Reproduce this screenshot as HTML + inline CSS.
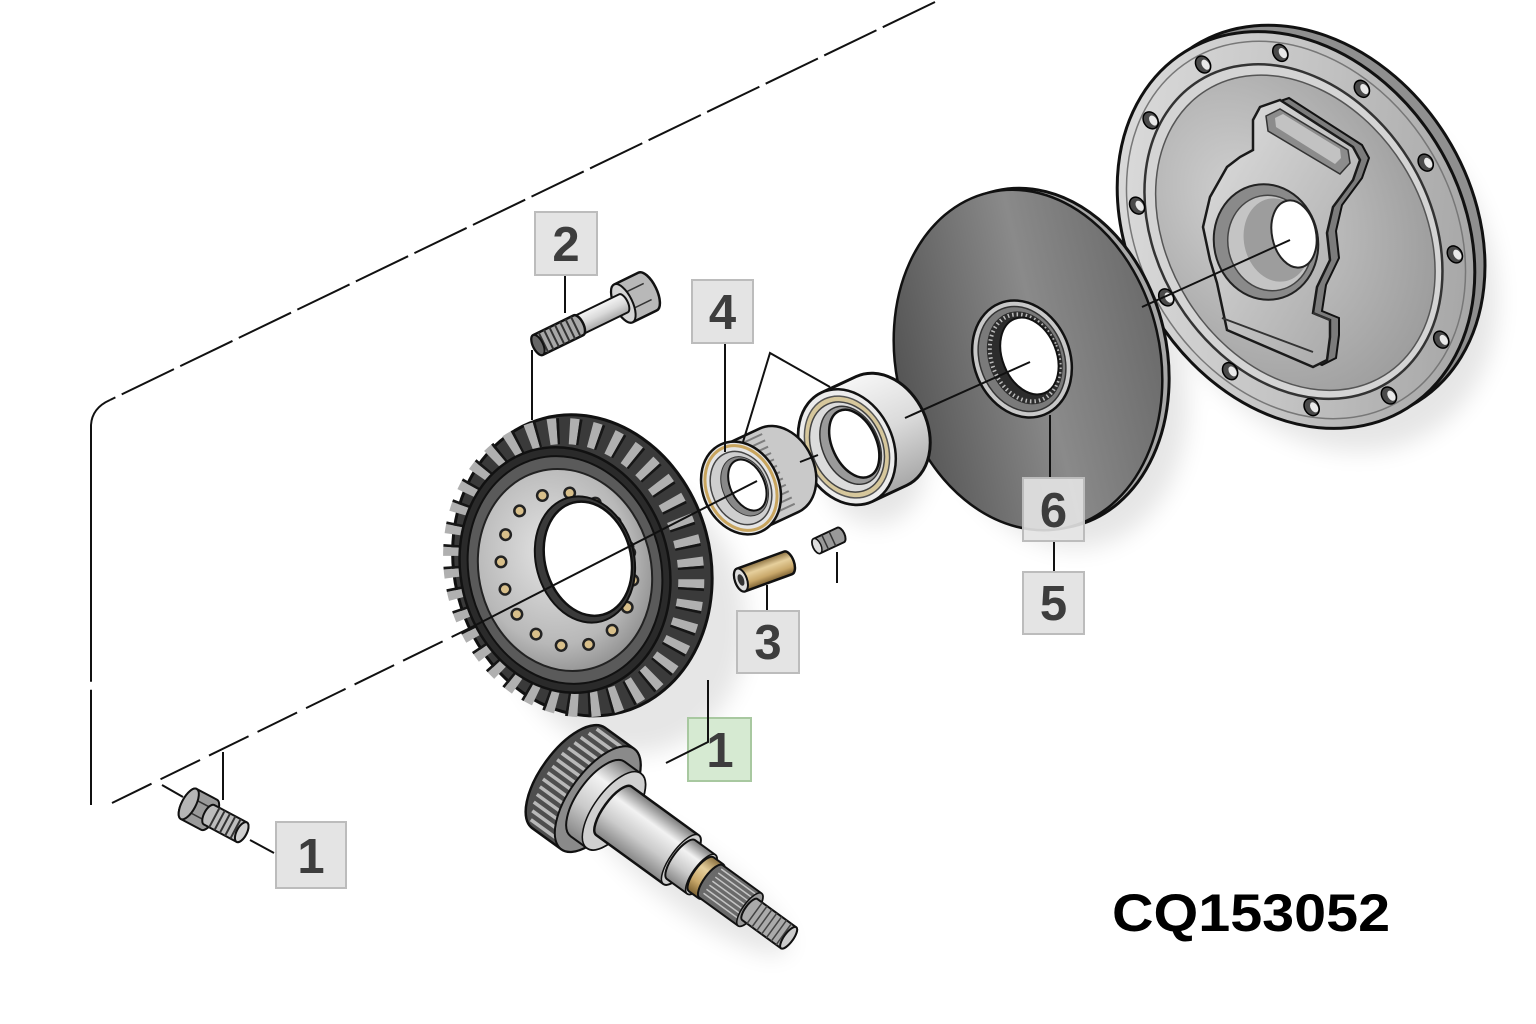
<!DOCTYPE html>
<html><head><meta charset="utf-8"><title>CQ153052</title>
<style>html,body{margin:0;padding:0;background:#fff}svg{display:block}</style></head>
<body>
<svg width="1536" height="1024" viewBox="0 0 1536 1024" xmlns="http://www.w3.org/2000/svg">
<defs>
<linearGradient id="gA" x1="0" y1="0" x2="0" y2="1"><stop offset="0" stop-color="#f6f6f6"/><stop offset="0.5" stop-color="#dadada"/><stop offset="1" stop-color="#a8a8a8"/></linearGradient>
<linearGradient id="gB" x1="0" y1="0" x2="0" y2="1"><stop offset="0" stop-color="#7a7a7a"/><stop offset="0.3" stop-color="#f2f2f2"/><stop offset="0.65" stop-color="#cbcbcb"/><stop offset="1" stop-color="#858585"/></linearGradient>
<linearGradient id="gTan" x1="0" y1="0" x2="0" y2="1"><stop offset="0" stop-color="#8a6f3e"/><stop offset="0.35" stop-color="#e6cf9c"/><stop offset="0.7" stop-color="#c9a86a"/><stop offset="1" stop-color="#7a5f30"/></linearGradient>
<linearGradient id="gDisc" x1="0" y1="0" x2="1" y2="0"><stop offset="0" stop-color="#555"/><stop offset="0.55" stop-color="#8a8a8a"/><stop offset="1" stop-color="#6c6c6c"/></linearGradient>
<linearGradient id="gHous" x1="0" y1="0" x2="1" y2="1"><stop offset="0" stop-color="#e2e2e2"/><stop offset="0.5" stop-color="#c4c4c4"/><stop offset="1" stop-color="#9a9a9a"/></linearGradient>
<radialGradient id="gFace" cx="0.4" cy="0.35" r="0.7"><stop offset="0" stop-color="#d2d2d2"/><stop offset="1" stop-color="#9c9c9c"/></radialGradient>
<radialGradient id="gHub" cx="0.45" cy="0.4" r="0.65"><stop offset="0" stop-color="#e4e4e4"/><stop offset="0.7" stop-color="#b8b8b8"/><stop offset="1" stop-color="#8a8a8a"/></radialGradient>
<linearGradient id="gBoss" x1="0" y1="0" x2="1" y2="1"><stop offset="0" stop-color="#e0e0e0"/><stop offset="1" stop-color="#a5a5a5"/></linearGradient>
<filter id="blur" x="-50%" y="-50%" width="200%" height="200%"><feGaussianBlur stdDeviation="12"/></filter>
</defs>

<!-- shadows -->
<g filter="url(#blur)" fill="#000" opacity="0.10">
<ellipse cx="625" cy="615" rx="120" ry="140" transform="rotate(-15 625 615)"/>
<ellipse cx="1325" cy="262" rx="160" ry="200" transform="rotate(-32 1325 262)"/>
<ellipse cx="875" cy="470" rx="50" ry="55"/>
<ellipse cx="1060" cy="385" rx="125" ry="165" transform="rotate(-13 1060 385)"/>
<ellipse cx="690" cy="880" rx="120" ry="30" transform="rotate(36 690 880)"/>
</g>

<!-- dashed frame lines -->
<g fill="none" stroke="#111" stroke-width="2">
<path d="M935,2 L110,400" stroke-dasharray="58 7"/>
<path d="M110,400 Q92,408 91,425 L91,805" stroke-dasharray="290 8"/>
<path d="M112,803 L470,628" stroke-dasharray="44 10"/>
<path d="M162,785 L183,797"/>
<path d="M223,752 L223,800"/>
<path d="M250,840 L274,853"/>
</g>

<!-- HOUSING -->
<g transform="translate(1296,230) rotate(-32)">
<ellipse cx="12" cy="0" rx="165" ry="210" fill="#8f8f8f" stroke="#111" stroke-width="3"/>
<ellipse cx="0" cy="0" rx="165" ry="210" fill="url(#gHous)" stroke="#111" stroke-width="3"/>
<ellipse cx="0" cy="0" rx="156" ry="200" fill="none" stroke="#777" stroke-width="1.5"/>
<ellipse cx="-3" cy="0" rx="136" ry="178" fill="#d4d4d4" stroke="#333" stroke-width="2.5"/>
<ellipse cx="-2" cy="2" rx="127" ry="168" fill="url(#gFace)" stroke="#555" stroke-width="1.5"/>
<g fill="#4a4a4a" stroke="#000" stroke-width="1.5">
<ellipse cx="80.6" cy="-158.5" rx="7" ry="9"/><ellipse cx="130.7" cy="-84.8" rx="7" ry="9"/><ellipse cx="145.7" cy="11.6" rx="7" ry="9"/>
<ellipse cx="121.8" cy="104.9" rx="7" ry="9"/><ellipse cx="65.1" cy="170" rx="7" ry="9"/><ellipse cx="-8.9" cy="189.6" rx="7" ry="9"/>
<ellipse cx="-80.6" cy="158.5" rx="7" ry="9"/><ellipse cx="-130.7" cy="84.8" rx="7" ry="9"/><ellipse cx="-145.7" cy="-11.6" rx="7" ry="9"/>
<ellipse cx="-121.8" cy="-104.9" rx="7" ry="9"/><ellipse cx="-65.1" cy="-170" rx="7" ry="9"/><ellipse cx="8.9" cy="-189.6" rx="7" ry="9"/>
</g>
<g fill="#e8e8e8">
<ellipse cx="82.6" cy="-157" rx="3.5" ry="5.5"/><ellipse cx="132.7" cy="-83.3" rx="3.5" ry="5.5"/><ellipse cx="147.7" cy="13.1" rx="3.5" ry="5.5"/>
<ellipse cx="123.8" cy="106.4" rx="3.5" ry="5.5"/><ellipse cx="67.1" cy="171.5" rx="3.5" ry="5.5"/><ellipse cx="-6.9" cy="191.1" rx="3.5" ry="5.5"/>
<ellipse cx="-78.6" cy="160" rx="3.5" ry="5.5"/><ellipse cx="-128.7" cy="86.3" rx="3.5" ry="5.5"/><ellipse cx="-143.7" cy="-10.1" rx="3.5" ry="5.5"/>
<ellipse cx="-119.8" cy="-103.4" rx="3.5" ry="5.5"/><ellipse cx="-63.1" cy="-168.5" rx="3.5" ry="5.5"/><ellipse cx="10.9" cy="-188.1" rx="3.5" ry="5.5"/>
</g>
</g>
<!-- boss -->
<polygon transform="translate(9,-2)" points="1253,120 1260,107 1280,100 1353,147 1360,160 1353,180 1333,207 1327,233 1330,260 1317,287 1313,313 1330,320 1330,337 1327,360 1313,367 1227,330 1220,297 1217,283 1210,260 1203,227 1210,197 1227,167 1240,157 1253,150" fill="#7c7c7c" stroke="#111" stroke-width="2"/>
<polygon points="1253,120 1260,107 1280,100 1353,147 1360,160 1353,180 1333,207 1327,233 1330,260 1317,287 1313,313 1330,320 1330,337 1327,360 1313,367 1227,330 1220,297 1217,283 1210,260 1203,227 1210,197 1227,167 1240,157 1253,150" fill="url(#gBoss)" stroke="#1a1a1a" stroke-width="2.5"/>
<polygon points="1266,116 1280,109 1348,150 1350,163 1340,174 1268,131" fill="#8c8c8c" stroke="#333" stroke-width="1.5"/>
<polygon points="1275,118 1283,114 1340,149 1341,158 1335,164 1276,127" fill="#c2c2c2"/>
<path d="M1222,318 L1313,352 M1313,313 L1330,320" stroke="#333" stroke-width="2" fill="none"/>
<ellipse cx="1266" cy="242" rx="52" ry="58" transform="rotate(-12 1266 242)" fill="#8a8a8a" stroke="#222" stroke-width="2"/>
<ellipse cx="1270" cy="243" rx="42" ry="48" transform="rotate(-12 1270 243)" fill="#c4c4c4" stroke="#444" stroke-width="1.5"/>
<ellipse cx="1277" cy="240" rx="33" ry="42" transform="rotate(-12 1277 240)" fill="#9d9d9d"/>
<ellipse cx="1294" cy="234" rx="22" ry="34" transform="rotate(-12 1294 234)" fill="#fff" stroke="#222" stroke-width="2"/>

<!-- DISC -->
<g transform="translate(1028,360) rotate(-13)">
<ellipse cx="7" cy="0" rx="132" ry="172" fill="#a8a8a8" stroke="#111" stroke-width="3"/>
<ellipse cx="0" cy="0" rx="132" ry="172" fill="url(#gDisc)" stroke="#111" stroke-width="2.5"/>
</g>
<g transform="translate(1022,359) rotate(-22)">
<ellipse cx="0" cy="0" rx="48" ry="60" fill="#c8c8c8" stroke="#111" stroke-width="2.5"/>
<ellipse cx="0" cy="0" rx="42" ry="54" fill="#7a7a7a" stroke="#333" stroke-width="1.5"/>
<ellipse cx="3" cy="0" rx="36" ry="48" fill="#2c2c2c"/>
<ellipse cx="3" cy="0" rx="33" ry="45" fill="none" stroke="#bbb" stroke-width="4" stroke-dasharray="1.5 3"/>
<ellipse cx="8" cy="0" rx="27" ry="40" fill="#fff" stroke="#111" stroke-width="2"/>
</g>

<!-- BIG BEARING -->
<g transform="translate(847,447) rotate(-25)">
<path d="M0,-60 L38,-60 A46,60 0 0 1 38,60 L0,60 A46,60 0 0 1 0,-60 Z" fill="url(#gA)" stroke="#111" stroke-width="3"/>
<ellipse cx="0" cy="0" rx="46" ry="60" fill="#ececec" stroke="#111" stroke-width="2.5"/>
<ellipse cx="0" cy="0" rx="40" ry="53" fill="#d6c79c" stroke="#555" stroke-width="1.5"/>
<ellipse cx="0" cy="0" rx="35" ry="47" fill="#dcdcdc" stroke="#444" stroke-width="1.5"/>
<ellipse cx="4" cy="0" rx="28" ry="41" fill="#9a9a9a" stroke="#333" stroke-width="1.5"/>
<ellipse cx="8" cy="0" rx="22" ry="36" fill="#fff" stroke="#111" stroke-width="2.5"/>
</g>

<!-- BEARING 4 -->
<g transform="translate(741,488) rotate(-25)">
<path d="M0,-46 L42,-46 A35,46 0 0 1 42,46 L0,46 A35,46 0 0 1 0,-46 Z" fill="#c9c9c9" stroke="#111" stroke-width="2.5"/>
<g stroke="#7e7e7e" stroke-width="2">
<line x1="12" y1="-40" x2="42" y2="-40"/><line x1="12" y1="-33" x2="42" y2="-33"/><line x1="12" y1="-26" x2="42" y2="-26"/><line x1="12" y1="-19" x2="42" y2="-19"/><line x1="12" y1="-12" x2="42" y2="-12"/><line x1="12" y1="-5" x2="42" y2="-5"/><line x1="12" y1="2" x2="42" y2="2"/><line x1="12" y1="9" x2="42" y2="9"/><line x1="12" y1="16" x2="42" y2="16"/><line x1="12" y1="23" x2="42" y2="23"/><line x1="12" y1="30" x2="42" y2="30"/><line x1="12" y1="37" x2="42" y2="37"/>
</g>
<ellipse cx="0" cy="0" rx="38" ry="48" fill="#e5e5e5" stroke="#111" stroke-width="2.5"/>
<ellipse cx="0" cy="0" rx="34" ry="44" fill="none" stroke="#c9a55e" stroke-width="3"/>
<ellipse cx="0" cy="0" rx="29" ry="38" fill="#cfcfcf" stroke="#444" stroke-width="1.5"/>
<ellipse cx="4" cy="0" rx="22" ry="31" fill="#888" stroke="#333" stroke-width="1"/>
<ellipse cx="7" cy="0" rx="17" ry="27" fill="#fff" stroke="#111" stroke-width="2"/>
</g>

<!-- RING GEAR -->
<g transform="translate(565,570) rotate(-15)">
<ellipse cx="18" cy="0" rx="128" ry="152" fill="#3a3a3a" stroke="#111" stroke-width="3"/>
<ellipse cx="9" cy="0" rx="116" ry="138" fill="none" stroke="#b0b0b0" stroke-width="26" stroke-dasharray="8.5 12.54"/>
<ellipse cx="9" cy="0" rx="116" ry="138" fill="none" stroke="#161616" stroke-width="26" stroke-dasharray="2.5 18.54" stroke-dashoffset="-8.5"/>
<ellipse cx="0" cy="0" rx="104" ry="124" fill="#2a2a2a" stroke="#111" stroke-width="2.5"/>
<ellipse cx="0" cy="0" rx="96" ry="115" fill="#5a5a5a" stroke="#111" stroke-width="2"/>
<ellipse cx="0" cy="0" rx="86" ry="102" fill="url(#gHub)" stroke="#222" stroke-width="2"/>
<ellipse cx="2" cy="0" rx="65" ry="78" fill="none" stroke="#222" stroke-width="13" stroke-linecap="round" stroke-dasharray="0.01 27.73"/>
<ellipse cx="2" cy="0" rx="65" ry="78" fill="none" stroke="#d8bf8a" stroke-width="8" stroke-linecap="round" stroke-dasharray="0.01 27.73"/>
<ellipse cx="22" cy="-5" rx="49" ry="64" fill="#3a3a3a" stroke="#111" stroke-width="2"/>
<ellipse cx="25" cy="-5" rx="43" ry="58" fill="#fff" stroke="#111" stroke-width="2.5"/>
</g>

<!-- BOLT 2 -->
<g transform="translate(538,345) rotate(-26)">
<path d="M95,-21 L122,-21 A9,21 0 0 1 122,21 L95,21 A9,21 0 0 1 95,-21 Z" fill="#b8b8b8" stroke="#111" stroke-width="2.5"/>
<line x1="96" y1="-9" x2="122" y2="-9" stroke="#333" stroke-width="1.5"/><line x1="96" y1="9" x2="122" y2="9" stroke="#333" stroke-width="1.5"/>
<ellipse cx="95" cy="0" rx="9" ry="21" fill="#d4d4d4" stroke="#111" stroke-width="2"/>
<path d="M45,-10 L95,-10 A4.5,10 0 0 1 95,10 L45,10 A4.5,10 0 0 1 45,-10 Z" fill="url(#gA)" stroke="#111" stroke-width="2"/>
<path d="M0,-11 L45,-11 A5,11 0 0 1 45,11 L0,11 A5,11 0 0 1 0,-11 Z" fill="#a8a8a8" stroke="#111" stroke-width="2.5"/>
<g stroke="#333" stroke-width="2"><line x1="6" y1="-11" x2="6" y2="11"/><line x1="12" y1="-11" x2="12" y2="11"/><line x1="18" y1="-11" x2="18" y2="11"/><line x1="24" y1="-11" x2="24" y2="11"/><line x1="30" y1="-11" x2="30" y2="11"/><line x1="36" y1="-11" x2="36" y2="11"/><line x1="42" y1="-11" x2="42" y2="11"/></g>
<ellipse cx="0" cy="0" rx="5" ry="11" fill="#666" stroke="#111" stroke-width="2"/>
</g>

<!-- SMALL BOLT 1 -->
<g transform="translate(202,811) rotate(28)">
<path d="M-15,-17 L8,-17 A7,17 0 0 1 8,17 L-15,17 A7,17 0 0 1 -15,-17 Z" fill="#9a9a9a" stroke="#111" stroke-width="2"/>
<line x1="-15" y1="-7" x2="8" y2="-7" stroke="#333" stroke-width="1.5"/><line x1="-15" y1="7" x2="8" y2="7" stroke="#333" stroke-width="1.5"/>
<ellipse cx="-15" cy="0" rx="7" ry="17" fill="#b5b5b5" stroke="#111" stroke-width="2"/>
<path d="M8,-11 L45,-11 A5,11 0 0 1 45,11 L8,11 A5,11 0 0 1 8,-11 Z" fill="#bdbdbd" stroke="#111" stroke-width="2"/>
<g stroke="#333" stroke-width="2"><line x1="14" y1="-11" x2="14" y2="11"/><line x1="20" y1="-11" x2="20" y2="11"/><line x1="26" y1="-11" x2="26" y2="11"/><line x1="32" y1="-11" x2="32" y2="11"/><line x1="38" y1="-11" x2="38" y2="11"/></g>
<ellipse cx="45" cy="0" rx="5" ry="11" fill="#d0d0d0" stroke="#111" stroke-width="2"/>
</g>

<!-- PIN 3 -->
<g transform="translate(741,580) rotate(-20)">
<path d="M0,-12 L50,-12 A6,12 0 0 1 50,12 L0,12 A6,12 0 0 1 0,-12 Z" fill="url(#gTan)" stroke="#111" stroke-width="2.5"/>
<ellipse cx="0" cy="0" rx="6" ry="12" fill="#ddd" stroke="#111" stroke-width="2"/>
<ellipse cx="0" cy="0" rx="3" ry="6" fill="#333"/>
</g>
<!-- SMALL PIN -->
<g transform="translate(817,546) rotate(-25)">
<path d="M0,-8 L26,-8 A4,8 0 0 1 26,8 L0,8 A4,8 0 0 1 0,-8 Z" fill="#999" stroke="#111" stroke-width="2"/>
<line x1="9" y1="-8" x2="9" y2="8" stroke="#333" stroke-width="1.5"/><line x1="17" y1="-8" x2="17" y2="8" stroke="#333" stroke-width="1.5"/>
<ellipse cx="0" cy="0" rx="4" ry="8" fill="#ddd" stroke="#111" stroke-width="1.5"/>
</g>

<!-- PINION SHAFT -->
<g transform="translate(588,792) rotate(36)">
<path d="M-24,-62 L12,-62 A28,62 0 0 1 12,62 L-24,62 A28,62 0 0 1 -24,-62 Z" fill="#4e4e4e" stroke="#111" stroke-width="2.5"/>
<g stroke="#b8b8b8" stroke-width="3.5">
<line x1="-30" y1="-56" x2="10" y2="-56"/><line x1="-34" y1="-48" x2="10" y2="-48"/><line x1="-38" y1="-40" x2="10" y2="-40"/><line x1="-40" y1="-32" x2="10" y2="-32"/><line x1="-42" y1="-24" x2="10" y2="-24"/><line x1="-44" y1="-16" x2="10" y2="-16"/><line x1="-44" y1="-8" x2="10" y2="-8"/><line x1="-44" y1="0" x2="10" y2="0"/><line x1="-44" y1="8" x2="10" y2="8"/><line x1="-44" y1="16" x2="10" y2="16"/><line x1="-42" y1="24" x2="10" y2="24"/><line x1="-40" y1="32" x2="10" y2="32"/><line x1="-38" y1="40" x2="10" y2="40"/><line x1="-34" y1="48" x2="10" y2="48"/><line x1="-30" y1="56" x2="10" y2="56"/>
</g>
<ellipse cx="12" cy="0" rx="28" ry="62" fill="#8a8a8a" stroke="#111" stroke-width="2"/>
<path d="M12,-46 L32,-46 A20,46 0 0 1 32,46 L12,46 A20,46 0 0 1 12,-46 Z" fill="url(#gB)" stroke="#111" stroke-width="2"/>
<ellipse cx="32" cy="0" rx="20" ry="46" fill="#d0d0d0" stroke="#111" stroke-width="1.5"/>
<path d="M32,-30 L115,-30 A10.5,30 0 0 1 115,30 L32,30 A10.5,30 0 0 1 32,-30 Z" fill="url(#gB)" stroke="#111" stroke-width="2.5"/>
<ellipse cx="115" cy="0" rx="10.5" ry="30" fill="#cfcfcf" stroke="#111" stroke-width="1.5"/>
<path d="M115,-24 L140,-24 A8.4,24 0 0 1 140,24 L115,24 A8.4,24 0 0 1 115,-24 Z" fill="url(#gB)" stroke="#111" stroke-width="2"/>
<ellipse cx="140" cy="0" rx="8.4" ry="24" fill="#cfcfcf" stroke="#111" stroke-width="1.5"/>
<path d="M140,-21 L152,-21 A7.4,21 0 0 1 152,21 L140,21 A7.4,21 0 0 1 140,-21 Z" fill="url(#gTan)" stroke="#111" stroke-width="2"/>
<path d="M152,-20 L200,-20 A7,20 0 0 1 200,20 L152,20 A7,20 0 0 1 152,-20 Z" fill="#6a6a6a" stroke="#111" stroke-width="2"/>
<g stroke="#c4c4c4" stroke-width="1.5"><line x1="153" y1="-16" x2="200" y2="-16"/><line x1="153" y1="-11" x2="200" y2="-11"/><line x1="153" y1="-6" x2="200" y2="-6"/><line x1="153" y1="-1" x2="200" y2="-1"/><line x1="153" y1="4" x2="200" y2="4"/><line x1="153" y1="9" x2="200" y2="9"/><line x1="153" y1="14" x2="200" y2="14"/></g>
<ellipse cx="200" cy="0" rx="7" ry="20" fill="#999" stroke="#111" stroke-width="1.5"/>
<path d="M200,-13 L248,-13 A4.6,13 0 0 1 248,13 L200,13 A4.6,13 0 0 1 200,-13 Z" fill="#aaa" stroke="#111" stroke-width="2"/>
<g stroke="#444" stroke-width="1.5"><line x1="206" y1="-13" x2="206" y2="13"/><line x1="212" y1="-13" x2="212" y2="13"/><line x1="218" y1="-13" x2="218" y2="13"/><line x1="224" y1="-13" x2="224" y2="13"/><line x1="230" y1="-13" x2="230" y2="13"/><line x1="236" y1="-13" x2="236" y2="13"/><line x1="242" y1="-13" x2="242" y2="13"/></g>
<ellipse cx="248" cy="0" rx="4.6" ry="13" fill="#ccc" stroke="#111" stroke-width="2"/>
</g>

<!-- axis lines (solid, on top) -->
<g stroke="#111" stroke-width="2" fill="none">
<path d="M470,628 L757,481"/>
<path d="M800,462 L818,455"/>
<path d="M905,418 L1030,362"/>
<path d="M1142,307 L1290,240"/>
</g>

<!-- leaders -->
<g stroke="#111" stroke-width="2" fill="none">
<path d="M565,275 L565,313"/>
<path d="M532,350 L532,420"/>
<path d="M725,343 L725,452"/>
<path d="M743,442 L770,353 L830,387"/>
<path d="M767,585 L767,611"/>
<path d="M837,552 L837,583"/>
<path d="M1050,415 L1050,478"/>
<path d="M1054,542 L1054,572"/>
</g>

<!-- label boxes -->
<g font-family="'Liberation Sans', Arial, sans-serif" font-weight="bold" font-size="49" fill="#3d3d3d" text-anchor="middle">
<rect x="535" y="212" width="62" height="63" fill="#e4e4e4" stroke="#bcbcbc" stroke-width="2"/>
<text x="566" y="261">2</text>
<rect x="692" y="280" width="61" height="63" fill="#e4e4e4" stroke="#bcbcbc" stroke-width="2"/>
<text x="722.5" y="329">4</text>
<rect x="737" y="611" width="62" height="62" fill="#e4e4e4" stroke="#bcbcbc" stroke-width="2"/>
<text x="768" y="659">3</text>
<rect x="1023" y="478" width="61" height="63" fill="#e4e4e4" fill-opacity="0.9" stroke="#bcbcbc" stroke-width="2"/>
<text x="1053.5" y="527">6</text>
<rect x="1023" y="572" width="61" height="62" fill="#e4e4e4" stroke="#bcbcbc" stroke-width="2"/>
<text x="1053.5" y="620">5</text>
<rect x="688" y="718" width="63" height="63" fill="#d6ead2" stroke="#a8c8a0" stroke-width="2"/>
<text x="720" y="767">1</text>
<rect x="276" y="822" width="70" height="66" fill="#e4e4e4" stroke="#bcbcbc" stroke-width="2"/>
<text x="311" y="873">1</text>
</g>
<path d="M708,680 L708,742 L666,763" stroke="#111" stroke-width="2" fill="none"/>

<text transform="translate(1112,931) scale(1.085,1)" x="0" y="0" font-family="'Liberation Sans', Arial, sans-serif" font-weight="bold" font-size="53" fill="#000">CQ153052</text>
</svg>
</body></html>
